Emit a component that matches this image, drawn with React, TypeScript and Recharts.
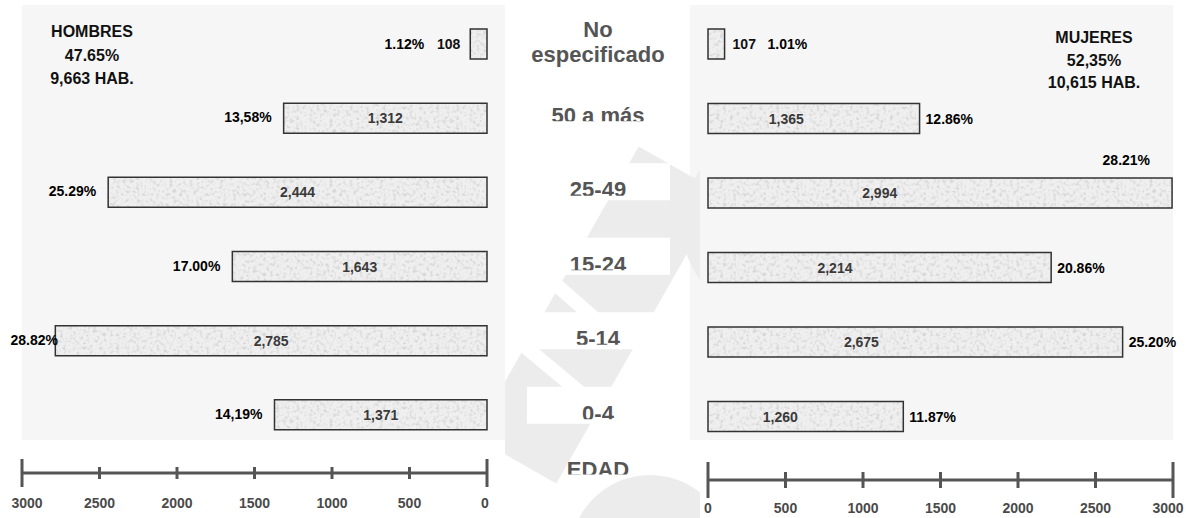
import React from 'react';
import { BarChart, Bar, XAxis, YAxis, LabelList } from 'recharts';

const edades = ['No especificado', '50 a más', '25-49', '15-24', '5-14', '0-4'];
const hombres = [108, 1312, 2444, 1643, 2785, 1371];
const mujeres = [107, 1365, 2994, 2214, 2675, 1260];
const hombresPct = ['1.12%', '13,58%', '25.29%', '17.00%', '28.82%', '14,19%'];
const mujeresPct = ['1.01%', '12.86%', '28.21%', '20.86%', '25.20%', '11.87%'];
const ejeTicks = [0, 500, 1000, 1500, 2000, 2500, 3000];

const dataH = edades.map((edad, i) => ({ edad, valor: hombres[i] }));
const dataM = edades.map((edad, i) => ({ edad, valor: mujeres[i] }));

const FONT = '"Liberation Sans", Arial, sans-serif';
const fmt = (v: number) => v.toLocaleString('en-US');

const box = (p: any) => {
  const vb = p.viewBox && p.viewBox.width !== undefined ? p.viewBox : p;
  const x = Number(vb.x), w = Number(vb.width), y = Number(vb.y), h = Number(vb.height);
  return { left: Math.min(x, x + w), right: Math.max(x, x + w), top: Math.min(y, y + h), cy: y + h / 2 };
};

const txt = { fontFamily: FONT, fontWeight: 700, fontSize: 14 } as const;

const HombresLabel = (p: any) => {
  const { left, right, cy } = box(p);
  const i = p.index;
  const w = right - left;
  if (w < 40) {
    return (
      <g>
        <text x={left - 10} y={cy} dy={5} textAnchor="end" fill="#111" {...txt}>{fmt(p.value)}</text>
        <text x={left - 46} y={cy} dy={5} textAnchor="end" fill="#000" {...txt}>{hombresPct[i]}</text>
      </g>
    );
  }
  return (
    <g>
      <text x={(left + right) / 2} y={cy} dy={5} textAnchor="middle" fill="#3a3a3a" {...txt}>{fmt(p.value)}</text>
      <text x={Math.max(left - 12, 58)} y={cy} dy={4} textAnchor="end" fill="#000" {...txt}>{hombresPct[i]}</text>
    </g>
  );
};

const MujeresLabel = (p: any) => {
  const { left, right, top, cy } = box(p);
  const i = p.index;
  const w = right - left;
  if (w < 40) {
    return (
      <g>
        <text x={right + 8} y={cy} dy={5} textAnchor="start" fill="#111" {...txt}>{fmt(p.value)}</text>
        <text x={right + 43} y={cy} dy={5} textAnchor="start" fill="#000" {...txt}>{mujeresPct[i]}</text>
      </g>
    );
  }
  const above = right + 55 > 686;
  return (
    <g>
      <text x={left + w * 0.37} y={cy} dy={5} textAnchor="middle" fill="#3a3a3a" {...txt}>{fmt(p.value)}</text>
      {above ? (
        <text x={right - 22} y={top - 13} textAnchor="end" fill="#000" {...txt}>{mujeresPct[i]}</text>
      ) : (
        <text x={right + 6} y={cy} dy={5} textAnchor="start" fill="#000" {...txt}>{mujeresPct[i]}</text>
      )}
    </g>
  );
};

// side: -1 for the left (reversed) axis, +1 for the right one
const makeTick = (endLen: number, midLen: number, labelDy: number, side: number) => (p: any) => {
  const { x, y, payload } = p;
  const v = payload.value;
  const end = v === 0 || v === 3000;
  const h = end ? endLen : midLen;
  const shift = v === 3000 ? -5 * side : v === 0 ? -2 * -side * (side < 0 ? 1 : 0) : 0;
  return (
    <g>
      <line x1={x} x2={x} y1={y - h} y2={y + h} stroke="#555" strokeWidth={3} />
      <text x={x + shift} y={y + labelDy} textAnchor="middle" fill="#4a4a4a" {...txt}>{v}</text>
    </g>
  );
};

const EdadTick = (p: any) => {
  const { x, y, payload, index } = p;
  const cx = x - 110;
  if (payload.value === 'No especificado') {
    return (
      <g fontFamily={FONT} fontWeight={700} fontSize={22} fill="#555">
        <rect x={x - 181} y={y - 30} width={143} height={62} fill="#fff" />
        <text x={cx} y={y - 7} textAnchor="middle">No</text>
        <text x={cx} y={y + 18} textAnchor="middle">especificado</text>
      </g>
    );
  }
  const base = y + 4;
  const id = `edad-clip-${index}`;
  return (
    <g>
      <clipPath id={id}>
        <rect x={x - 190} y={base - 30} width={170} height={28.5} />
      </clipPath>
      <rect x={x - 181} y={base - 34} width={143} height={37} fill="#fff" />
      <text x={cx} y={base} textAnchor="middle" clipPath={`url(#${id})`} fontFamily={FONT} fontWeight={700} fontSize={22} fill="#555">
        {payload.value}
      </text>
    </g>
  );
};

export default function App() {
  return (
    <div style={{ position: 'absolute', left: 0, top: 0, width: 1186, height: 518, background: '#fff', overflow: 'hidden' }}>
      <svg width={1186} height={518} style={{ position: 'absolute', left: 0, top: 0 }}>
        <defs>
          <filter id="noise" x="0" y="0" width="100%" height="100%">
            <feTurbulence type="fractalNoise" baseFrequency="0.3" numOctaves={2} seed={4} />
            <feColorMatrix type="matrix" values="0 0 0 0 0.6  0 0 0 0 0.6  0 0 0 0 0.6  2.2 0 0 0 -1.05" />
          </filter>
          <pattern id="tex" patternUnits="userSpaceOnUse" width={160} height={60}>
            <rect width={160} height={60} fill="#efefef" />
            <rect width={160} height={60} filter="url(#noise)" />
          </pattern>
          <clipPath id="wm">
            <rect x={505} y={120} width={195} height={398} />
          </clipPath>
          <clipPath id="edadTitle">
            <rect x={520} y={440} width={160} height={34.5} />
          </clipPath>
        </defs>
        <rect x={22} y={5} width={483} height={435} fill="#f6f6f6" />
        <rect x={690} y={5} width={483} height={435} fill="#f6f6f6" />
        <g clipPath="url(#wm)" stroke="#ececec" fill="none">
          <line x1={680} y1={170} x2={515} y2={460} strokeWidth={95} />
          <circle cx={775} cy={225} r={80} strokeWidth={26} />
          <line x1={505} y1={240} x2={625} y2={345} stroke="#fff" strokeWidth={14} />
          <line x1={505} y1={330} x2={625} y2={430} stroke="#fff" strokeWidth={14} />
          <circle cx={650} cy={555} r={80} fill="#ececec" stroke="none" />
        </g>
        <g fontFamily={FONT} fontWeight={700} fontSize={16} fill="#111" textAnchor="middle">
          <text x={92} y={37}>HOMBRES</text>
          <text x={92} y={61}>47.65%</text>
          <text x={92} y={84}>9,663 HAB.</text>
          <text x={1094} y={43}>MUJERES</text>
          <text x={1094} y={66}>52,35%</text>
          <text x={1094} y={88}>10,615 HAB.</text>
        </g>
        <text x={598} y={477} textAnchor="middle" fontFamily={FONT} fontWeight={700} fontSize={22} fill="#555" clipPath="url(#edadTitle)">EDAD</text>
      </svg>

      <div style={{ position: 'absolute', left: 0, top: 0 }}>
        <BarChart width={500} height={518} data={dataH} layout="vertical" margin={{ top: 7, right: 13, left: 22, bottom: 0 }}>
          <XAxis
            type="number"
            domain={[0, 3000]}
            ticks={ejeTicks}
            reversed
            interval={0}
            height={45}
            tickSize={0}
            tickMargin={0}
            tickLine={false}
            axisLine={{ stroke: '#555', strokeWidth: 3 }}
            tick={makeTick(14, 6, 35, -1)}
          />
          <YAxis type="category" dataKey="edad" hide padding={{ top: 0, bottom: 21 }} />
          <Bar dataKey="valor" barSize={30} fill="url(#tex)" stroke="#333" strokeWidth={1.5} isAnimationActive={false}>
            <LabelList dataKey="valor" content={HombresLabel} />
          </Bar>
        </BarChart>
      </div>

      <div style={{ position: 'absolute', left: 500, top: 0 }}>
        <BarChart width={686} height={518} data={dataM} layout="vertical" margin={{ top: 7, right: 13, left: 0, bottom: 0 }}>
          <XAxis
            type="number"
            domain={[0, 3000]}
            ticks={ejeTicks}
            interval={0}
            height={38}
            tickSize={0}
            tickMargin={0}
            tickLine={false}
            axisLine={{ stroke: '#555', strokeWidth: 3 }}
            tick={makeTick(18, 8, 33, 1)}
          />
          <YAxis
            type="category"
            dataKey="edad"
            width={208}
            interval={0}
            tickSize={0}
            tickMargin={0}
            tickLine={false}
            axisLine={false}
            padding={{ top: 0, bottom: 26 }}
            tick={EdadTick}
          />
          <Bar dataKey="valor" barSize={30} fill="url(#tex)" stroke="#333" strokeWidth={1.5} isAnimationActive={false}>
            <LabelList dataKey="valor" content={MujeresLabel} />
          </Bar>
        </BarChart>
      </div>
    </div>
  );
}
